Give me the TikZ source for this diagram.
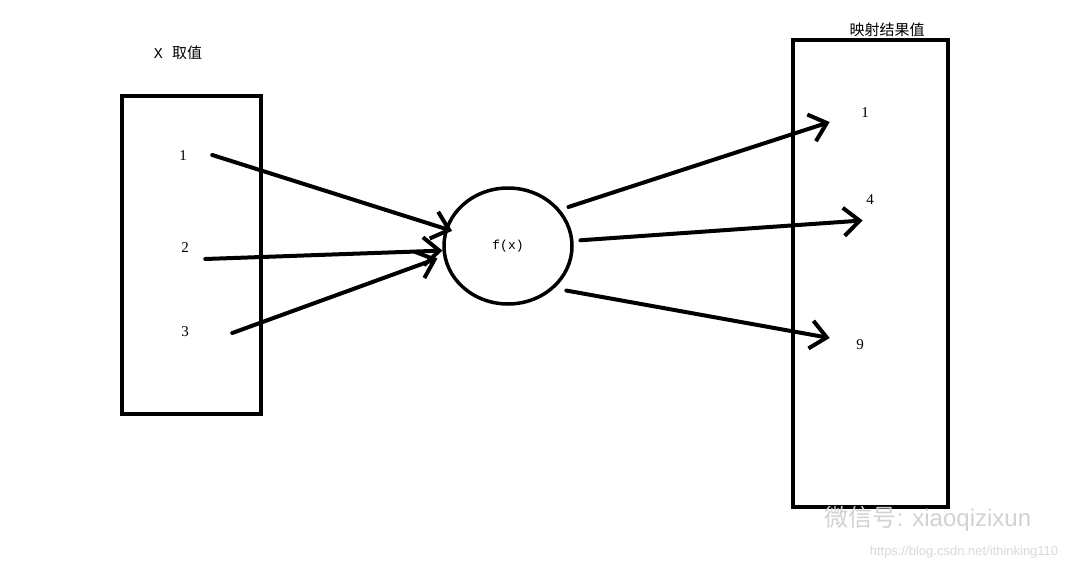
\documentclass[tikz,border=0pt]{standalone}
\usepackage{fontspec}
\setmainfont{Liberation Serif}
\setsansfont{Liberation Sans}
\setmonofont{Liberation Mono}
\newfontfamily\cjk{Noto Sans CJK SC}
\usetikzlibrary{arrows.meta,shapes.geometric}

\begin{document}
\begin{tikzpicture}[x=1pt, y=-1pt,
    box/.style={draw, line width=4pt, rectangle, inner sep=0pt},
    num/.style={font=\fontsize{15}{15}\selectfont},
    arr/.style={line width=4pt, line cap=round, -{Straight Barb[length=16pt, width=28pt, line width=4pt]}}]
    \useasboundingbox (0,0) rectangle (1080,570);
    % left and right boxes
    \node (domain) at (191.5,255) [box, minimum width=139pt, minimum height=318pt] {};
    \node (range) at (870.5,273.5) [box, minimum width=155pt, minimum height=467pt] {};
    \node (domaintitle) at (178,53) [num] {\ttfamily X\ \cjk 取值};
    \node (rangetitle) at (887,30) [num] {\cjk 映射结果值};
    % values
    \node (in1) at (183,156) [num] {1};
    \node (in2) at (185,248) [num] {2};
    \node (in3) at (185,332) [num] {3};
    \node (out1) at (865,113) [num] {1};
    \node (out4) at (870,200) [num] {4};
    \node (out9) at (860,345) [num] {9};
    \node (fx) at (508,246) [draw, ellipse, line width=3.5pt, minimum width=128pt, minimum height=116pt,
        font=\ttfamily\fontsize{13}{13}\selectfont] {f(x)};
    \draw[arr] ([shift={(22,-1)}]in1.east) -- ([shift={(6,5)}]fx.162);
    \draw[arr] ([shift={(13,11)}]in2.east) -- (fx.184);
    \draw[arr] ([shift={(40,1)}]in3.east) -- ([shift={(-6,1)}]fx.190);
    \draw[arr] ([shift={(5,-7)}]fx.30) -- ([shift={(-28,9)}]out1.west);
    \draw[arr] ([shift={(7,0)}]fx.5) -- ([shift={(0,12)}]out4.south west);
    \draw[arr] ([shift={(10,4)}]fx.-40) -- ([shift={(-23,-7)}]out9.west);
    % watermark
    \node (wechat) at (928,519) [text=gray!35, font=\sffamily\fontsize{24}{24}\selectfont] {{\cjk 微信号}: xiaoqizixun};
    \node (url) at (964,552) [text=gray!30, font=\sffamily\fontsize{13}{13}\selectfont] {https://blog.csdn.net/ithinking110};
\end{tikzpicture}
\end{document}
